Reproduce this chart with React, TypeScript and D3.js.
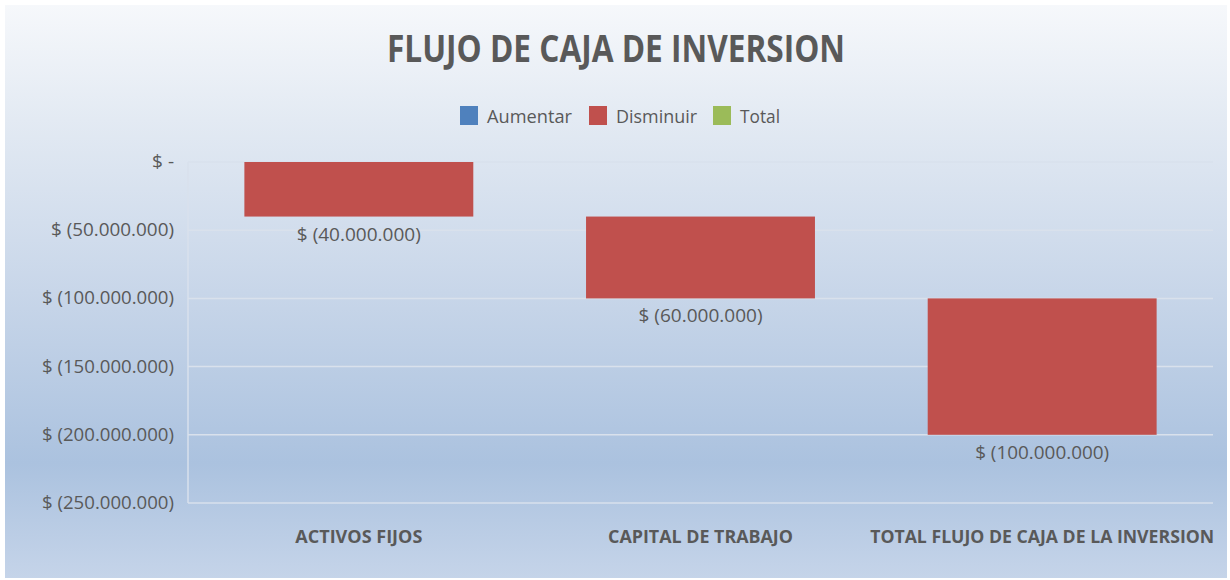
import React from "react";
import * as d3 from "d3";

const categories = ["ACTIVOS FIJOS", "CAPITAL DE TRABAJO", "TOTAL FLUJO DE CAJA DE LA INVERSION"];
const barStart = [0, -40000000, -100000000];
const barEnd = [-40000000, -100000000, -200000000];
const barLabels = ["$ (40.000.000)", "$ (60.000.000)", "$ (100.000.000)"];
const yTicks = [0, -50000000, -100000000, -150000000, -200000000, -250000000];
const yTickLabels = ["$ -", "$ (50.000.000)", "$ (100.000.000)", "$ (150.000.000)", "$ (200.000.000)", "$ (250.000.000)"];
const legendNames = ["Aumentar", "Disminuir", "Total"];
const legendColors = ["#4F81BD", "#C0504D", "#9BBB59"];
const title = "FLUJO DE CAJA DE INVERSION";

const W = 1230;
const H = 580;
const plot = { left: 188, right: 1213, top: 162, bottom: 503 };
const FONT = "'Open Sans', 'DejaVu Sans', sans-serif";
const TEXT = "#595959";

export default function App() {
  const x = d3.scaleBand<string>().domain(categories).range([plot.left, plot.right]).paddingInner(0.33).paddingOuter(0.165);
  const y = d3.scaleLinear().domain([-250000000, 0]).range([plot.bottom, plot.top]);

  const legendX = [460, 589, 713];
  const legendTextW = [85, 81, 40];

  return (
    <svg width={W} height={H} style={{ position: "absolute", left: 0, top: 0, display: "block" }}>
      <defs>
        <linearGradient id="bg" x1="0" y1="0" x2="0" y2="1">
          <stop offset="0" stopColor="#f6f8fb" />
          <stop offset="0.2" stopColor="#e3eaf3" />
          <stop offset="0.5" stopColor="#c8d6e9" />
          <stop offset="0.8" stopColor="#abc2df" />
          <stop offset="1" stopColor="#c5d4e9" />
        </linearGradient>
      </defs>
      <rect x={0} y={0} width={W} height={H} fill="#ffffff" />
      <rect x={5} y={5} width={1222} height={573} fill="url(#bg)" />

      <text x={616} y={62} textAnchor="middle" fontFamily={FONT} fontWeight="bold" fontSize={37} fill={TEXT}
        textLength={458} lengthAdjust="spacingAndGlyphs">{title}</text>

      {legendNames.map((n, i) => (
        <g key={n}>
          <rect x={legendX[i]} y={106} width={18} height={19} fill={legendColors[i]} />
          <text x={legendX[i] + 27} y={123} fontFamily={FONT} fontSize={19} fill={TEXT}
            textLength={legendTextW[i]} lengthAdjust="spacingAndGlyphs">{n}</text>
        </g>
      ))}

      {yTicks.map((t) => (
        <line key={t} x1={plot.left} x2={plot.right} y1={y(t)} y2={y(t)} stroke="#d9e1ec" strokeWidth={1.5} />
      ))}
      <line x1={plot.left} x2={plot.left} y1={plot.top} y2={plot.bottom} stroke="#d9e1ec" strokeWidth={1.5} />

      {yTicks.map((t, i) => (
        <text key={t} x={174} y={y(t) + 6} textAnchor="end" fontFamily={FONT} fontSize={19} fill={TEXT}
          textLength={yTickLabels[i].length > 3 ? (yTickLabels[i].length === 14 ? 123 : 132) : undefined}
          lengthAdjust="spacingAndGlyphs">{yTickLabels[i]}</text>
      ))}

      {categories.map((c, i) => {
        const y0 = y(Math.max(barStart[i], barEnd[i]));
        const y1 = y(Math.min(barStart[i], barEnd[i]));
        const cx = (x(c) as number) + x.bandwidth() / 2;
        return (
          <g key={c}>
            <rect x={x(c)} y={y0} width={x.bandwidth()} height={y1 - y0} fill="#C0504D" />
            <text x={cx} y={y1 + 24} textAnchor="middle" fontFamily={FONT} fontSize={19} fill={TEXT}
              textLength={barLabels[i].length === 14 ? 124 : 134} lengthAdjust="spacingAndGlyphs">{barLabels[i]}</text>
          </g>
        );
      })}

      {categories.map((c, i) => {
        const cx = (x(c) as number) + x.bandwidth() / 2;
        const tl = [127, 185, 344][i];
        return (
          <text key={c} x={cx} y={543} textAnchor="middle" fontFamily={FONT} fontWeight="bold" fontSize={18} fill={TEXT}
            textLength={tl} lengthAdjust="spacingAndGlyphs">{c}</text>
        );
      })}
    </svg>
  );
}
